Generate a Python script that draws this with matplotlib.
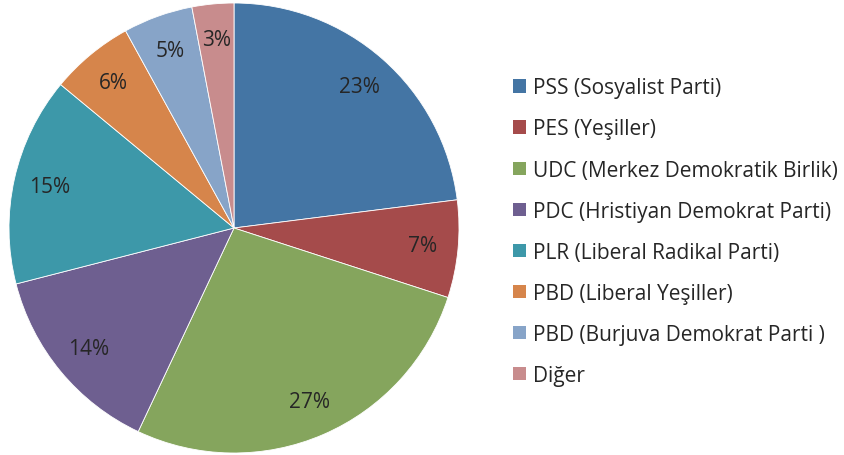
import matplotlib
matplotlib.use('Agg')
import matplotlib.pyplot as plt
from matplotlib.patches import Patch

# 数据
parties = ['PSS (Sosyalist Parti)', 'PES (Yeşiller)', 'UDC (Merkez Demokratik Birlik)',
           'PDC (Hristiyan Demokrat Parti)', 'PLR (Liberal Radikal Parti)',
           'PBD (Liberal Yeşiller)', 'PBD (Burjuva Demokrat Parti )', 'Diğer']
shares = [23, 7, 27, 14, 15, 6, 5, 3]
colors = ['#4475A4', '#A54B4B', '#85A55D', '#6E5F90', '#3D98A9', '#D6854B', '#87A4C8', '#C88C8D']

plt.rcParams['font.family'] = ['Open Sans', 'DejaVu Sans']
text_color = '#262626'

fig = plt.figure(figsize=(8.45, 4.56), dpi=100)
ax = fig.add_axes([9 / 845, 2 / 456, 450 / 845, 450 / 456])

wedges, texts, autotexts = ax.pie(
    shares, colors=colors, startangle=90, counterclock=False,
    autopct='%d%%', pctdistance=0.84,
    wedgeprops=dict(edgecolor='white', linewidth=0.6),
    textprops=dict(color=text_color, fontsize=15))
ax.set_xlim(-1, 1)
ax.set_ylim(-1, 1)
ax.set_aspect('equal')

handles = [Patch(facecolor=c, edgecolor='none') for c in colors]
fig.legend(handles, parties, loc='upper left', bbox_to_anchor=(505 / 845, 1 - 70 / 456),
           frameon=False, fontsize=15, labelcolor=text_color,
           handlelength=0.6, handleheight=0.6, handletextpad=0.35,
           labelspacing=0.965, borderaxespad=0)

fig.savefig('out.png', dpi=100)
